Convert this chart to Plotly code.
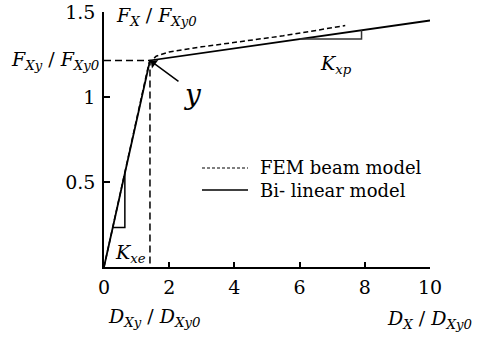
import numpy as np
import plotly.graph_objects as go

# ---- data ----
bilinear_x = [0.0, 1.41, 10.0]
bilinear_y = [0.0, 1.215, 1.45]

fem_x = [0.0, 1.38, 1.6, 2.0, 3.0, 4.0, 5.5, 7.4]
fem_y = [0.0, 1.20, 1.24, 1.265, 1.295, 1.32, 1.36, 1.42]

x_tickvals = [0, 2, 4, 6, 8, 10]
x_ticktext = ["0", "2", "4", "6", "8", "10"]
y_tickvals = [0.5, 1.0, 1.5]
y_ticktext = ["0.5", "1", "1.5"]

kxe_tri_x = [0.27, 0.64]   # stiffness triangle extents (on elastic branch)
kxp_tri_x = [6.0, 7.9]     # stiffness triangle extents (on plastic branch)

# ---- layout geometry ----
W, H = 484, 339
L, R, T, B = 104, 54, 12, 72
PW, PH = W - L - R, H - T - B
FONT = "DejaVu Serif"
TICK = 19


def px(x):
    return (x - L) / PW


def py(y):
    return (H - B - y) / PH


yield_x, yield_y = bilinear_x[1], bilinear_y[1]

fig = go.Figure()

# guide lines at the yield point
fig.add_trace(go.Scatter(x=[0, yield_x, yield_x], y=[yield_y, yield_y, 0],
                         mode="lines", line=dict(color="black", width=1.5, dash="7px,4px"),
                         showlegend=False, hoverinfo="skip"))

fig.add_trace(go.Scatter(x=fem_x, y=fem_y, mode="lines", name="FEM beam model",
                         line=dict(color="black", width=1.5, dash="5px,3px"), showlegend=False))
fig.add_trace(go.Scatter(x=bilinear_x, y=bilinear_y, mode="lines", name="Bi- linear model",
                         line=dict(color="black", width=1.8), showlegend=False))

# stiffness triangles
e_y = np.interp(kxe_tri_x, bilinear_x, bilinear_y)
fig.add_trace(go.Scatter(x=[kxe_tri_x[0], kxe_tri_x[1], kxe_tri_x[1]],
                         y=[e_y[0], e_y[0], e_y[1]], mode="lines",
                         line=dict(color="black", width=1.5), showlegend=False, hoverinfo="skip"))
p_y = np.interp(kxp_tri_x, bilinear_x, bilinear_y)
fig.add_trace(go.Scatter(x=[kxp_tri_x[0], kxp_tri_x[1], kxp_tri_x[1]],
                         y=[p_y[0], p_y[0], p_y[1]], mode="lines",
                         line=dict(color="#333", width=1.5), showlegend=False, hoverinfo="skip"))

ann = []
def txt(text, x, y, size=19, xanchor="center", yanchor="middle"):
    ann.append(dict(text=text, x=px(x), y=py(y), xref="paper", yref="paper",
                    xanchor=xanchor, yanchor=yanchor, showarrow=False,
                    font=dict(family=FONT, size=size, color="black")))

txt("<i>F<sub>X</sub></i> / <i>F<sub>Xy0</sub></i>", 114, 16, xanchor="left")
txt("<i>F<sub>Xy</sub></i> / <i>F<sub>Xy0</sub></i>", 102, 60, xanchor="right")
txt("<i>D<sub>Xy</sub></i> / <i>D<sub>Xy0</sub></i>", 106, 317, xanchor="left")
txt("<i>D<sub>X</sub></i> / <i>D<sub>Xy0</sub></i>", 474, 319, xanchor="right")
txt("<i>K<sub>xe</sub></i>", 113, 253, xanchor="left")
txt("<i>K<sub>xp</sub></i>", 318, 64, xanchor="left")
txt("<i>y</i>", 192, 95, size=28)

# legend (manual)
txt("FEM beam model", 258, 167, size=18, xanchor="left")
txt("Bi- linear model", 258, 190, size=18, xanchor="left")

ann.append(dict(x=yield_x, y=yield_y, xref="x", yref="y", ax=30, ay=22, text="",
                showarrow=True, arrowhead=1, arrowsize=1.2, arrowwidth=1.5,
                arrowcolor="black", standoff=1))

shapes = [
    dict(type="line", xref="paper", yref="paper", x0=px(202), x1=px(248), y0=py(168), y1=py(168),
         line=dict(color="black", width=1.2, dash="3px,2px")),
    dict(type="line", xref="paper", yref="paper", x0=px(202), x1=px(248), y0=py(190), y1=py(190),
         line=dict(color="black", width=1.5)),
]

fig.update_layout(
    width=W, height=H, margin=dict(l=L, r=R, t=T, b=B, autoexpand=False),
    paper_bgcolor="white", plot_bgcolor="white",
    annotations=ann, shapes=shapes,
    font=dict(family=FONT, size=TICK, color="black"),
    xaxis=dict(range=[0, 10], tickvals=x_tickvals, ticktext=x_ticktext,
               ticks="inside", ticklen=5, tickwidth=1.5, tickcolor="black",
               showline=True, linecolor="black", linewidth=1.5, showgrid=False, zeroline=False,
               automargin=False, ticklabelstandoff=2, ticklabeloverflow="allow",
               tickfont=dict(family=FONT, size=TICK)),
    yaxis=dict(range=[0, 1.5], tickvals=y_tickvals, ticktext=y_ticktext,
               ticks="inside", ticklen=6, tickwidth=1.5, tickcolor="black",
               showline=True, linecolor="black", linewidth=1.5, showgrid=False, zeroline=False,
               automargin=False, ticklabelstandoff=3, ticklabeloverflow="allow",
               tickfont=dict(family=FONT, size=TICK)),
)

fig.write_html("out.html")
